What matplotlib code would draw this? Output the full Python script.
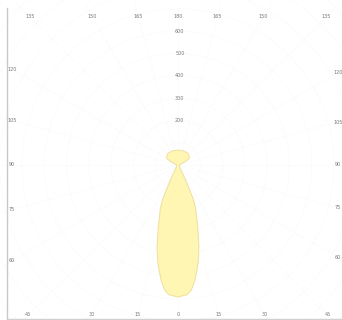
import numpy as np
import matplotlib
matplotlib.use("Agg")
import matplotlib.pyplot as plt

# Luminous intensity distribution (cd) vs gamma angle (deg, 0 = straight down)
gamma_deg = [0, 4, 6, 8, 10, 12, 14, 16, 18, 20, 22, 24, 25, 26, 28, 30, 35, 45,
             60, 90, 100, 110, 113, 116, 120, 125, 140, 160, 180]
intensity_cd = [592, 583, 565, 529, 484, 439, 386, 332, 283, 242, 211, 170, 125, 90,
                50, 30, 16, 9, 7, 7, 9, 13, 22, 40, 56, 63, 69, 68, 67]
ring_values = [200, 300, 400, 500, 600]
ring_labels = ["200", "300", "400", "500", "600"]
angle_ticks = [0, 15, 30, 45, 60, 75, 90, 105, 120, 135, 150, 165, 180]

W, H = 342, 320
cx, cy = 178, 165          # pixel position of the luminaire
ppu = 22.3 / 100.0         # pixels per cd

fig = plt.figure(figsize=(W / 100, H / 100), dpi=100)
ax = fig.add_axes([0, 0, 1, 1])
ax.set_xlim(-cx / ppu, (W - cx) / ppu)
ax.set_ylim(-(H - cy) / ppu, cy / ppu)
ax.axis("off")

grid_col = "#efefef"
# concentric rings
th = np.linspace(0, 2 * np.pi, 400)
for rv in range(100, 1200, 100):
    ax.plot(rv * np.cos(th), rv * np.sin(th), color=grid_col, lw=0.4, ls=(0, (1, 2)), zorder=1)

# radial lines + angle labels at frame
xl, xr = (12 - cx) / ppu, (338 - cx) / ppu
yt, yb = (cy - 17) / ppu, -(315 - cy) / ppu
lab_col = "#7a7a7a"
for sign in (-1, 1):
    for a in angle_ticks:
        if sign == 1 and a in (0, 180):
            continue
        t = np.radians(a)
        dx, dy = sign * np.sin(t), -np.cos(t)
        cands = []
        if abs(dx) > 1e-9:
            cands.append((xr if dx > 0 else xl) / dx)
        if abs(dy) > 1e-9:
            cands.append((yt if dy > 0 else yb) / dy)
        s = min(c for c in cands if c > 0)
        ax.plot([0, dx * s * 1.1], [0, dy * s * 1.1], color=grid_col, lw=0.4,
                ls=(0, (1, 2)), zorder=1)
        ax.text(dx * s, dy * s, str(a), fontsize=3.5, color=lab_col,
                ha="center", va="center", zorder=4)

# ring value labels above centre
for rv, lab in zip(ring_values, ring_labels):
    ax.text(8, rv, lab, fontsize=3.5, color=lab_col, ha="center", va="center", zorder=4)

# intensity curve (mirrored for C0/C180 planes)
g = np.radians(np.array(gamma_deg, dtype=float))
I = np.array(intensity_cd, dtype=float)
x_r = I * np.sin(g)
y_r = -I * np.cos(g)
xs = np.concatenate([x_r, -x_r[::-1]])
ys = np.concatenate([y_r, y_r[::-1]])
ax.fill(xs, ys, facecolor="#fff6b4", edgecolor="#efe2a4", lw=0.8, zorder=3)

# frame lines (left and bottom)
ax.plot([(7 - cx) / ppu] * 2, [-(319 - cy) / ppu, (cy - 8) / ppu], color="#c8c8c8", lw=1.0, zorder=2)
ax.plot([(7 - cx) / ppu, (W - cx) / ppu], [-(319 - cy) / ppu] * 2, color="#d0d0d0", lw=1.0, zorder=2)

fig.savefig("out.png", dpi=100, facecolor="white")
